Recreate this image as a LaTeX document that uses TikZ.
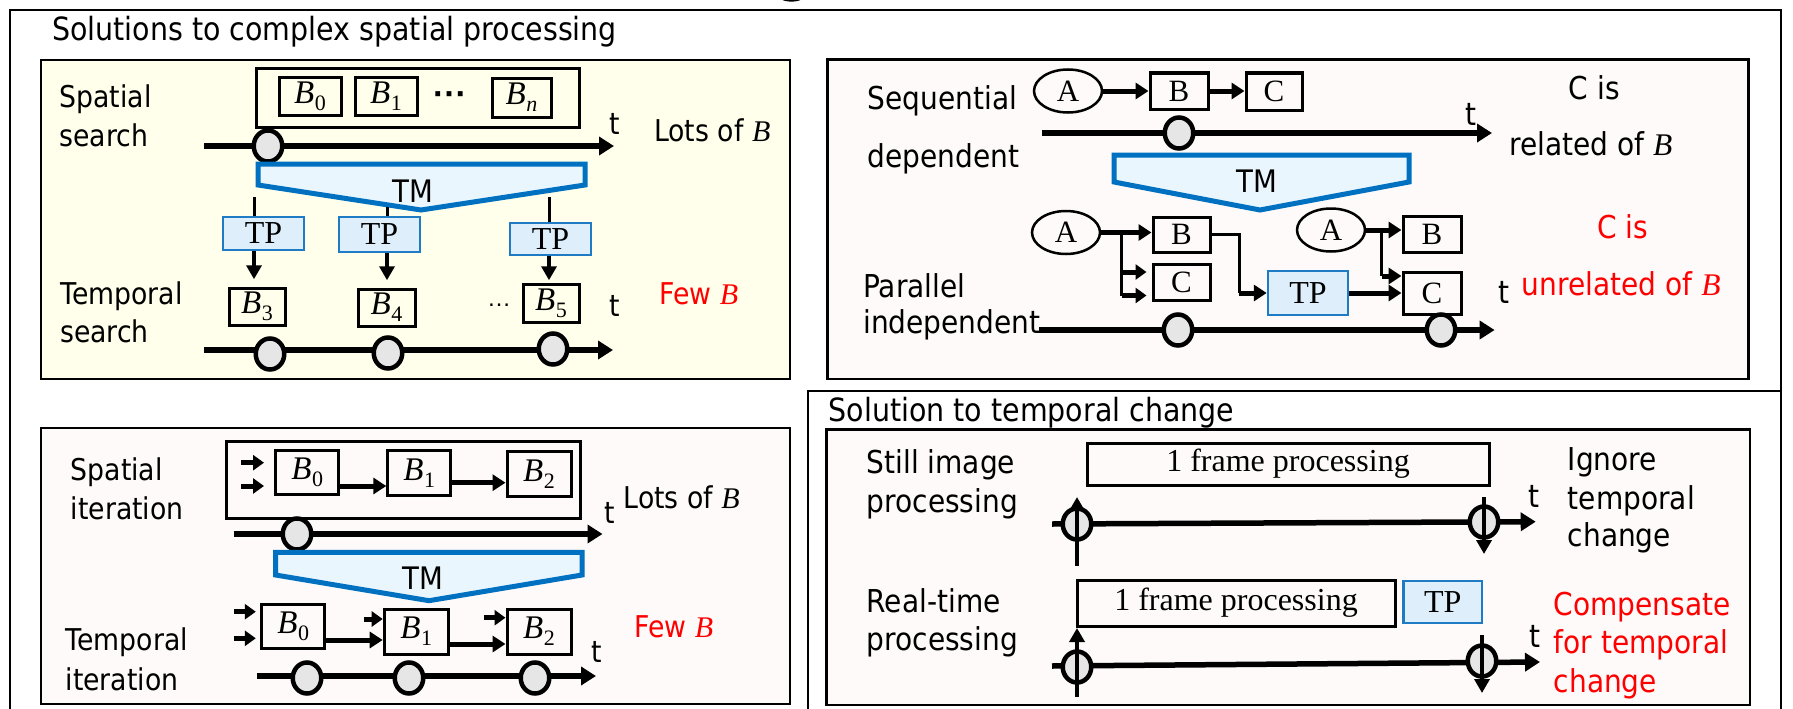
\documentclass[tikz,border=0pt]{standalone}
\usepackage{fontspec}
\setmainfont{Liberation Serif}
\newfontfamily\lsans[FakeStretch=0.89]{DejaVu Sans}
\newfontfamily\lserif{Liberation Serif}
\newfontfamily\arialdots{Liberation Sans}
\usetikzlibrary{arrows.meta,shapes.geometric}
\definecolor{tmblue}{RGB}{0,112,192}
\definecolor{tmfill}{RGB}{234,246,253}
\definecolor{tpfill}{RGB}{222,239,251}
\definecolor{tpblue}{RGB}{30,123,196}
\definecolor{yelfill}{RGB}{255,255,235}
\definecolor{pinkfill}{RGB}{253,250,249}
\definecolor{circfill}{RGB}{230,230,230}
\newcommand\Bsub[1]{{\itshape B}\kern0.5pt\raisebox{-7pt}{\fontsize{22}{22}\selectfont #1}}
\newcommand\Bit{{\lserif\itshape B}}
\begin{document}
\begin{tikzpicture}[x=1pt,y=-1pt,
 outerframe/.style={line width=2pt},
 panel/.style={line width=2.5pt},
 lab/.style={font=\lsans\fontsize{30}{36}\selectfont, inner sep=0pt, anchor=base west},
 rlab/.style={font=\lsans\fontsize{31.5}{36}\selectfont, inner sep=0pt, anchor=base west},
 ttl/.style={font=\lsans\fontsize{32}{36}\selectfont, inner sep=0pt, anchor=base west},
 redtext/.style={text=red},
 bbox/.style={draw, line width=3pt, inner sep=0pt, font=\lserif\fontsize{33}{34}\selectfont},
 lbox/.style={draw, line width=3pt, inner sep=0pt, font=\lserif\fontsize{31}{34}\selectfont},
 fbox/.style={draw, line width=3pt, inner sep=0pt, font=\lserif\fontsize{32}{34}\selectfont},
 tpbox/.style={draw=tpblue, fill=tpfill, line width=2.5pt, inner sep=0pt, font=\lserif\fontsize{32}{34}\selectfont},
 ell/.style={ellipse, draw, line width=2.5pt, inner sep=0pt, minimum width=68pt, minimum height=43pt, font=\lserif\fontsize{31}{34}\selectfont},
 circ/.style={ellipse, draw, line width=4.5pt, fill=circfill, minimum width=28.5pt, minimum height=31pt, inner sep=0pt},
 tl/.style={line width=5.5pt, -{Triangle[length=15pt,width=18pt]}},
 tmshape/.style={draw=tmblue, fill=tmfill, line width=5pt, line join=miter},
 tmlab/.style={font=\lsans\fontsize{31}{36}\selectfont, inner sep=0pt},
 thk/.style={line width=5pt, -{Triangle[length=13pt,width=16pt]}},
 sml/.style={line width=5pt, -{Triangle[length=11pt,width=15pt]}},
 varr/.style={line width=4.5pt, -{Triangle[length=14pt,width=15pt]}},
 conn/.style={line width=3pt},
 cont/.style={line width=3pt},
]
\useasboundingbox (0,0) rectangle (1793,709);
% outer frames
\draw[outerframe] (9.5,709) -- (9.5,10) -- (1781,10) -- (1781,709);
\draw[outerframe] (808,709) -- (808,391) -- (1781,391);
\fill (781,-1) .. controls (785,2.5) and (798,2.5) .. (802,-1) -- cycle;
% titles
\node[ttl] (title1) at (52,41) {Solutions to complex spatial processing};
\node[ttl] (title2) at (828.5,421) {Solution to temporal change};
% panels
\draw[panel, fill=yelfill] (40.8,60) rectangle (789.8,379);
\draw[panel, fill=pinkfill] (827.5,59.3) rectangle (1748.6,379);
\draw[panel, fill=pinkfill] (40.8,428) rectangle (789.8,704);
\draw[panel, fill=pinkfill] (826.6,429.3) rectangle (1750,705);

% ===== Panel 1: spatial / temporal search =====
\node[lab] (ss1) at (59.3,107) {Spatial};
\node[lab] (ss2) at (59.3,146) {search};
\draw[cont] (256,69) rectangle (579,127);
\node[bbox, minimum width=62pt, minimum height=38pt] (sb0) at (310,96) {\Bsub{0}};
\node[bbox, minimum width=62pt, minimum height=38pt] (sb1) at (386,96) {\Bsub{1}};
\node[font=\arialdots\bfseries\fontsize{34}{34}\selectfont, inner sep=0pt, anchor=base] (sdots) at (450,105) {···};
\node[bbox, minimum width=59pt, minimum height=39pt] (sbn) at (521.5,97.5) {\Bsub{\itshape n}};
\coordinate (tl1s) at (204,146);
\coordinate (tl1e) at (614,146);
\draw[tl] (tl1s) -- (tl1e);
\node[circ] (c1) at (268,146) {};
\node[lab] (tt1) at (609,134) {t};
\node[lab] (lots1) at (654,141.5) {Lots of \Bit};
\draw[tmshape] (258,164) -- (585,164) -- (585,185) -- (421,210) -- (258,185) -- cycle;
\node[tmlab] (tm1) at (412.6,191) {TM};
\node[tpbox, minimum width=81pt, minimum height=33pt] (tp1) at (263.5,233.5) {TP};
\node[tpbox, minimum width=81pt, minimum height=35pt] (tp2) at (379.5,234.5) {TP};
\node[tpbox, minimum width=81pt, minimum height=32pt] (tp3) at (550.5,239) {TP};
\coordinate (v1) at (254,197);
\coordinate (v2) at (387,207);
\coordinate (v3) at (549,197);
\draw[conn] (v1) -- (v1 |- tp1.north);
\draw[conn] (v2) -- (v2 |- tp2.north);
\draw[conn] (v3) -- (v3 |- tp3.north);
\draw[varr] (v1 |- tp1.south) -- ++(0,28);
\draw[varr] (v2 |- tp2.south) -- ++(0,27);
\draw[varr] (v3 |- tp3.south) -- ++(0,24);
\node[lab] (ts1) at (60,304) {Temporal};
\node[lab] (ts2) at (60,342) {search};
\node[bbox, minimum width=56pt, minimum height=37pt] (sb3) at (257,306.5) {\Bsub{3}};
\node[bbox, minimum width=57pt, minimum height=37pt] (sb4) at (386.5,307.5) {\Bsub{4}};
\node[font=\arialdots\fontsize{24}{24}\selectfont, inner sep=0pt, anchor=base] (sdots2) at (499,306) {…};
\node[bbox, minimum width=56pt, minimum height=38pt] (sb5) at (551,303) {\Bsub{5}};
\node[lab] (tt2) at (609,316) {t};
\node[lab, redtext] (few1) at (659,304.5) {Few \Bit};
\coordinate (tl2s) at (204,350);
\coordinate (tl2e) at (613,350);
\draw[tl] (tl2s) -- (tl2e);
\node[circ] (c2) at (270,354) {};
\node[circ] (c3) at (388,353) {};
\node[circ] (c4) at (553,349) {};

% ===== Panel 2: sequential / parallel =====
\node[rlab] (sq1) at (867.7,109.5) {Sequential};
\node[rlab] (sq2) at (867.7,167) {dependent};
\node[ell] (a1) at (1068,91) {A};
\node[lbox, minimum width=58pt, minimum height=36pt] (b1) at (1179,91) {B};
\node[lbox, minimum width=56pt, minimum height=37pt] (cc1) at (1274,91.5) {C};
\draw[thk] (a1.east) -- (b1.west);
\draw[thk] (b1.east) -- (b1.east -| cc1.west);
\coordinate (tl3s) at (1042,133);
\coordinate (tl3e) at (1492,133);
\draw[tl] (tl3s) -- (tl3e);
\node[circ] (c5) at (1179,133) {};
\node[rlab] (tt3) at (1465,125) {t};
\node[rlab] (cis1) at (1568.6,99.5) {C is};
\node[rlab] (rel1) at (1509,155) {related of \Bit};
\draw[tmshape] (1114,155) -- (1409,155) -- (1409,182) -- (1260,210) -- (1114,182) -- cycle;
\node[tmlab] (tm2) at (1256.6,181.5) {TM};
\node[ell] (a2) at (1066,232.5) {A};
\node[lbox, minimum width=57pt, minimum height=35pt] (b2) at (1181.5,234.5) {B};
\node[lbox, minimum width=57pt, minimum height=36pt] (cc2) at (1181.5,282) {C};
\node[tpbox, minimum width=80pt, minimum height=44pt] (tp4) at (1308,293) {TP};
\node[ell] (a3) at (1331,230) {A};
\node[lbox, minimum width=58pt, minimum height=36pt] (b3) at (1432,234) {B};
\node[lbox, minimum width=58pt, minimum height=42pt] (cc3) at (1432,293) {C};
\draw[thk] (a2.east) -- (a2.east -| b2.west);
\coordinate (j1) at (1121.6,232.5);
\coordinate (j2) at (1121.6,295.5);
\draw[conn] (j1) -- (j2);
\coordinate (p1) at (1122,272);
\coordinate (p2) at (1122,295.5);
\draw[sml, shorten >=5pt] (p1) -- (p1 -| cc2.west);
\draw[sml, shorten >=5pt] (p2) -- (p2 -| cc2.west);
\coordinate (k1) at (1239,234.5);
\draw[conn] (b2.east) -- (k1) -- (k1 |- tp4.west);
\draw[thk] (k1 |- tp4.west) -- (tp4.west);
\draw[thk] (tp4.east) -- (cc3.west);
\draw[thk] (a3.east) -- (a3.east -| b3.west);
\coordinate (k2) at (1381.8,230);
\coordinate (k3) at (1381.8,276);
\draw[conn] (k2) -- (k3);
\draw[thk] (k3) -- (k3 -| cc3.west);
\node[rlab] (pi1) at (863,297) {Parallel};
\node[rlab] (pi2) at (863,333.5) {independent};
\coordinate (tl4s) at (1039,330);
\coordinate (tl4e) at (1494.6,330);
\draw[tl] (tl4s) -- (tl4e);
\node[circ] (c6) at (1178,330) {};
\node[circ] (c7) at (1441,330) {};
\node[rlab] (tt4) at (1498,303) {t};
\node[rlab, redtext] (cis2) at (1597,238.5) {C is};
\node[rlab, redtext] (unrel) at (1521.6,295) {unrelated of \Bit};

% ===== Panel 3: spatial / temporal iteration =====
\node[lab] (si1) at (70.6,480) {Spatial};
\node[lab] (si2) at (70.6,519) {iteration};
\draw[cont] (226,441) rectangle (580.5,518);
\node[bbox, minimum width=63pt, minimum height=44pt] (ib0) at (307.3,472.5) {\Bsub{0}};
\node[bbox, minimum width=63pt, minimum height=45pt] (ib1) at (419.3,473.3) {\Bsub{1}};
\node[bbox, minimum width=64pt, minimum height=45pt] (ib2) at (539,474.3) {\Bsub{2}};
\coordinate (q1) at (241,462.7);
\coordinate (q2) at (241,486);
\draw[sml] (q1) -- ++(23,0);
\draw[sml] (q2) -- ++(23,0);
\coordinate (r1) at (0,486);
\coordinate (r2) at (0,482.7);
\draw[thk] (ib0.east |- r1) -- (ib1.west |- r1);
\draw[thk] (ib1.east |- r2) -- (ib2.west |- r2);
\coordinate (tl5s) at (233.8,534);
\coordinate (tl5e) at (602.5,534);
\draw[tl] (tl5s) -- (tl5e);
\node[circ] (c8) at (297,534) {};
\node[lab] (tt5) at (604,523) {t};
\node[lab] (lots2) at (623.4,508.5) {Lots of \Bit};
\draw[tmshape] (275.6,552.3) -- (582,552.3) -- (582,575) -- (429,600.7) -- (275.6,575) -- cycle;
\node[tmlab] (tm3) at (422.6,578) {TM};
\node[lab] (ti1) at (65.4,650) {Temporal};
\node[lab] (ti2) at (65.4,690) {iteration};
\node[bbox, minimum width=63pt, minimum height=44pt] (jb0) at (293.3,626) {\Bsub{0}};
\node[bbox, minimum width=64pt, minimum height=45pt] (jb1) at (416.2,631.5) {\Bsub{1}};
\node[bbox, minimum width=64pt, minimum height=45pt] (jb2) at (539,631.5) {\Bsub{2}};
\coordinate (q3) at (233.8,611.7);
\coordinate (q4) at (233.8,638.3);
\coordinate (q5) at (363.5,619);
\coordinate (q6) at (484,617.7);
\draw[sml] (q3) -- ++(22,0);
\draw[sml] (q4) -- ++(22,0);
\draw[sml] (q5) -- (q5 -| jb1.west);
\draw[sml] (q6) -- (q6 -| jb2.west);
\coordinate (r3) at (0,640);
\coordinate (r4) at (0,644);
\draw[thk] (jb0.east |- r3) -- (jb1.west |- r3);
\draw[thk] (jb1.east |- r4) -- (jb2.west |- r4);
\coordinate (tl6s) at (257,676);
\coordinate (tl6e) at (596,676);
\draw[tl] (tl6s) -- (tl6e);
\node[circ] (c9) at (307,678) {};
\node[circ] (c10) at (409,678) {};
\node[circ] (c11) at (535,678) {};
\node[lab] (tt6) at (591,662) {t};
\node[lab, redtext] (few2) at (634,637) {Few \Bit};

% ===== Panel 4: temporal change =====
\node[rlab] (st1) at (866.5,473) {Still image};
\node[rlab] (st2) at (866.5,512) {processing};
\node[fbox, minimum width=402pt, minimum height=42pt] (fp1) at (1288,464) {1 frame processing};
\coordinate (tl7s) at (1052,524);
\coordinate (tl7e) at (1535.7,521.7);
\draw[tl] (tl7s) -- (tl7e);
\node[circ] (d1) at (1077,524) {};
\node[circ] (d2) at (1484,522) {};
\draw[varr] (d1.center) ++(0,42) -- ++(0,-69);
\draw[varr] (d2.center) ++(0,-25) -- ++(0,57);
\node[rlab] (tt7) at (1528,507) {t};
\node[rlab] (ig1) at (1567.6,470) {Ignore};
\node[rlab] (ig2) at (1567.6,509) {temporal};
\node[rlab] (ig3) at (1567.6,546) {change};
\node[rlab] (rt1) at (866.5,612) {Real-time};
\node[rlab] (rt2) at (866.5,650) {processing};
\node[fbox, minimum width=318pt, minimum height=46pt] (fp2) at (1236,603) {1 frame processing};
\node[tpbox, minimum width=78.5pt, minimum height=42pt] (tp5) at (1442.75,602) {TP};
\coordinate (tl8s) at (1052,666);
\coordinate (tl8e) at (1540,662);
\draw[tl] (tl8s) -- (tl8e);
\node[circ] (d3) at (1077,667) {};
\node[circ] (d4) at (1482,661) {};
\draw[varr] (d3.center) ++(0,30) -- ++(0,-69);
\draw[varr] (d4.center) ++(0,-26) -- ++(0,58);
\node[rlab] (tt8) at (1529.6,647) {t};
\node[rlab, redtext] (cp1) at (1553.6,615) {Compensate};
\node[rlab, redtext] (cp2) at (1553.6,653) {for temporal};
\node[rlab, redtext] (cp3) at (1553.6,692) {change};
\end{tikzpicture}
\end{document}
